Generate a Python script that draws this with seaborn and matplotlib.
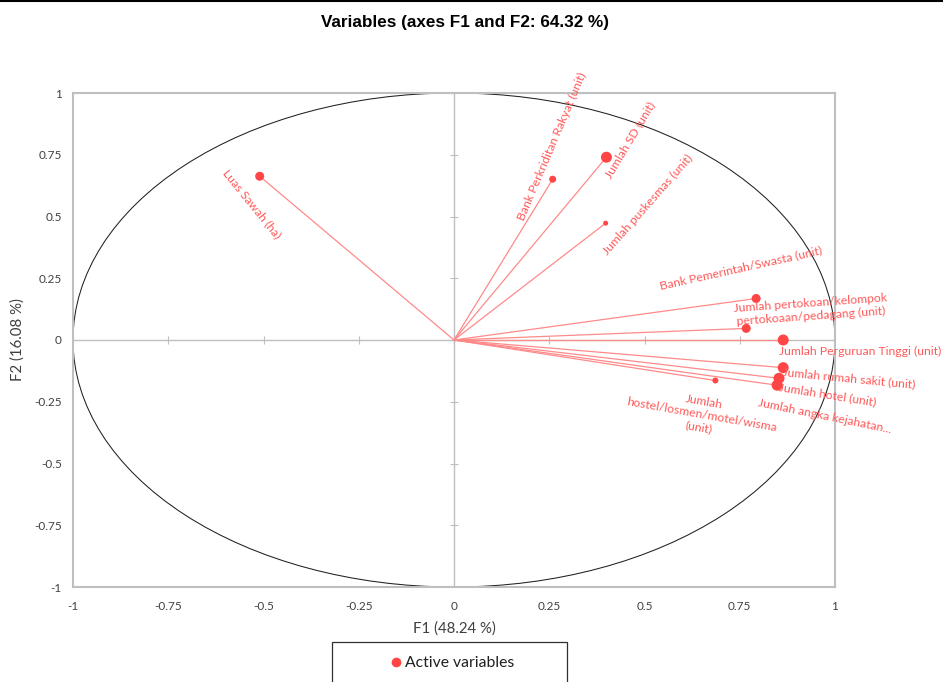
import seaborn as sns
import pandas as pd
import matplotlib.pyplot as plt
from matplotlib.patches import Circle, Rectangle
from matplotlib.lines import Line2D

# PCA correlation circle - variables on F1 / F2
variables = [
    'Luas Sawah (ha)',
    'Bank Perkriditan Rakyat (unit)',
    'Jumlah SD (unit)',
    'Jumlah puskesmas (unit)',
    'Bank Pemerintah/Swasta (unit)',
    'Jumlah pertokoan/kelompok\npertokoaan/pedagang (unit)',
    'Jumlah Perguruan Tinggi (unit)',
    'Jumlah rumah sakit (unit)',
    'Jumlah hotel (unit)',
    'Jumlah angka kejahatan...',
    'Jumlah\nhostel/losmen/motel/wisma\n(unit)',
]
f1 = [-0.51, 0.259, 0.400, 0.398, 0.793, 0.767, 0.864, 0.864, 0.853, 0.848, 0.686]
f2 = [0.663, 0.651, 0.740, 0.473, 0.168, 0.047, 0.000, -0.112, -0.155, -0.183, -0.164]

# styling: dot diameters (px) and label placement
dot_px = [9, 7, 11, 5, 9, 9, 11, 11, 11, 11, 6]
lab_x = [-0.531, 0.257, 0.463, 0.510, 0.754, 0.937, 1.065, 1.037, 0.979, 0.974, 0.649]
lab_y = [0.550, 0.785, 0.809, 0.546, 0.290, 0.124, -0.047, -0.156, -0.221, -0.310, -0.302]
lab_rot = [-51, 67, 59, 48.5, 12.5, 4, 0, -5.5, -9, -11.5, -10]

ticks = [-1, -0.75, -0.5, -0.25, 0, 0.25, 0.5, 0.75, 1]
tick_labels = ['-1', '-0.75', '-0.5', '-0.25', '0', '0.25', '0.5', '0.75', '1']

df = pd.DataFrame({'var': variables, 'F1': f1, 'F2': f2,
                   'size': [(d * 0.72) ** 2 for d in dot_px]})

sns.set_theme(style='white')
plt.rcParams['font.family'] = ['Lato', 'DejaVu Sans']

RED_LINE = '#ff8a8a'
RED_DOT = '#ff4545'
RED_TXT = '#ff5a5a'
GREY = '#bfbfbf'
TXT = '#404040'

fig = plt.figure(figsize=(9.43, 6.82), dpi=100)
ax = fig.add_axes([73 / 943, 1 - 587 / 682, 762 / 943, 494 / 682])

# zero axes
ax.axhline(0, color=GREY, lw=1.0, zorder=1)
ax.axvline(0, color=GREY, lw=1.0, zorder=1)
ax.plot([0] * len(ticks), ticks, ls='none', marker='_', ms=6, mew=0.8, color=GREY, zorder=1)
ax.plot(ticks, [0] * len(ticks), ls='none', marker='|', ms=6, mew=0.8, color=GREY, zorder=1)

# unit circle
ax.add_patch(Circle((0, 0), 1, fill=False, ec='#202020', lw=0.75, zorder=2))

# vectors
for x, y in zip(df['F1'], df['F2']):
    ax.plot([0, x], [0, y], color=RED_LINE, lw=0.9, zorder=3)

sns.scatterplot(data=df, x='F1', y='F2', s=df['size'], color=RED_DOT,
                edgecolor='none', legend=False, ax=ax, zorder=4)

for name, x, y, r in zip(variables, lab_x, lab_y, lab_rot):
    ax.text(x, y, name, rotation=r, rotation_mode='anchor', ha='center', va='center',
            multialignment='center', color=RED_TXT, fontsize=8.8, zorder=5, clip_on=False,
            linespacing=1.25)

ax.set_xlim(-1, 1)
ax.set_ylim(-1, 1)
ax.set_xticks(ticks)
ax.set_yticks(ticks)
ax.set_xticklabels(tick_labels)
ax.set_yticklabels(tick_labels)
ax.tick_params(axis='both', length=0, labelsize=8.5, labelcolor=TXT, pad=10)
ax.tick_params(axis='y', pad=8)
for sp in ax.spines.values():
    sp.set_color(GREY)
    sp.set_linewidth(1.5)

ax.set_xlabel('F1 (48.24 %)', fontsize=10.8, color=TXT, labelpad=7)
ax.set_ylabel('F2 (16.08 %)', fontsize=10.8, color=TXT, labelpad=7)

fig.text(0.4935, 1 - 23 / 682, 'Variables (axes F1 and F2: 64.32 %)',
         ha='center', va='center', fontsize=12.3, fontweight='bold',
         family=['Liberation Sans'], color='black')

# top border line of the frame
fig.add_artist(Line2D([0, 1], [1 - 1 / 682, 1 - 1 / 682], color='black', lw=1.5))

# legend box (cut by the lower edge)
fig.add_artist(Rectangle((332 / 943, -0.05), 235 / 943, 0.05 + (682 - 642) / 682,
                         fill=False, ec='#303030', lw=0.9, transform=fig.transFigure))
handle = Line2D([], [], ls='none', marker='o', ms=7, color=RED_DOT, mec='none',
                label='Active variables')
fig.legend(handles=[handle], loc='center', bbox_to_anchor=(451 / 943, 1 - 663 / 682),
           frameon=False, fontsize=11.3, handletextpad=0.1, handlelength=1.0,
           labelcolor='#202020')

fig.savefig('out.png', dpi=100)
